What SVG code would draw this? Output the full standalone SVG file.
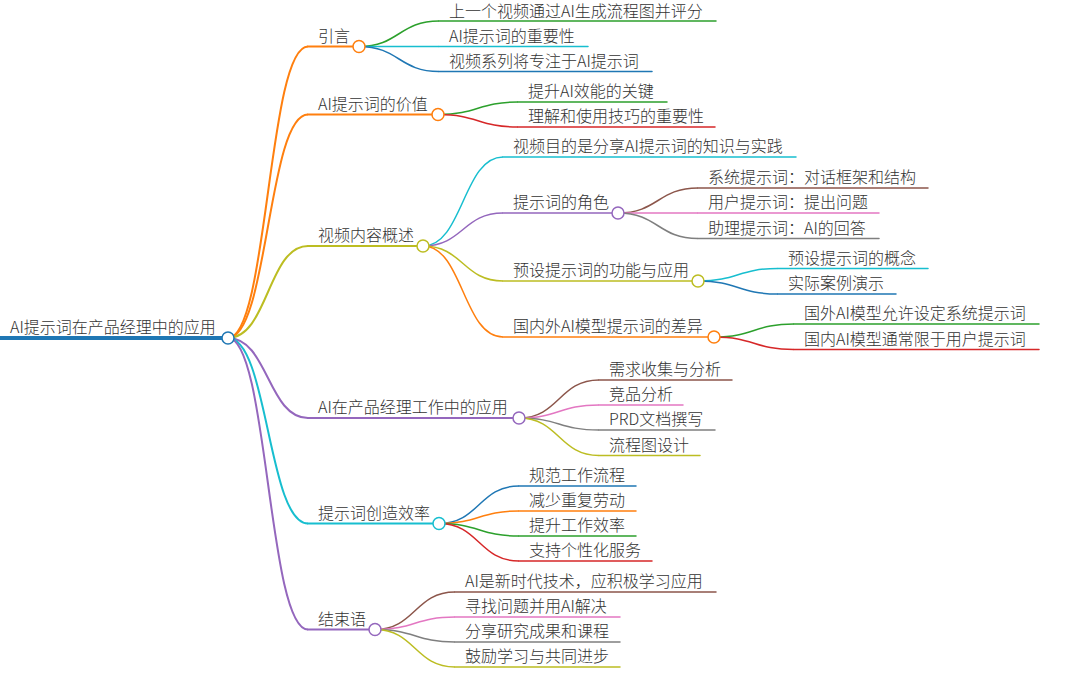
<svg xmlns="http://www.w3.org/2000/svg" width="1080" height="693" viewBox="0 0 1080 693">
<style>
text{font-family:"Noto Sans CJK SC","Noto Sans",sans-serif;font-size:16px;fill:#333;font-weight:300}
.u{fill:none;stroke-linecap:round}
.l{fill:none}
.c{fill:#fff;stroke-width:1.5}
.w1{stroke-width:2}
.w2{stroke-width:1.5}
.blue{stroke:#1f77b4}.orange{stroke:#ff7f0e}.green{stroke:#2ca02c}.red{stroke:#d62728}.purple{stroke:#9467bd}
.brown{stroke:#8c564b}.pink{stroke:#e377c2}.gray{stroke:#7f7f7f}.olive{stroke:#bcbd22}.cyan{stroke:#17becf}
</style>
<rect width="1080" height="693" fill="#fff"/>
<g id="connectors">
<path class="l w1 orange" d="M228,338 C268,338 268,46.5 308,46.5"/>
<path class="l w1 orange" d="M228,338 C268,338 268,114.5 308,114.5"/>
<path class="l w1 olive" d="M228,338 C268,338 268,246 308,246"/>
<path class="l w1 purple" d="M228,338 C268,338 268,418 308,418"/>
<path class="l w1 cyan" d="M228,338 C268,338 268,523.5 308,523.5"/>
<path class="l w1 purple" d="M228,338 C268,338 268,629.5 308,629.5"/>
<path class="l w2 green" d="M359,46.5 C399,46.5 399,21 439,21"/>
<path class="l w2 cyan" d="M359,46.5 C399,46.5 399,46.5 439,46.5"/>
<path class="l w2 blue" d="M359,46.5 C399,46.5 399,71.5 439,71.5"/>
<path class="l w2 green" d="M438,114.5 C478,114.5 478,102 518,102"/>
<path class="l w2 red" d="M438,114.5 C478,114.5 478,127 518,127"/>
<path class="l w2 cyan" d="M423,246 C463,246 463,157 503,157"/>
<path class="l w2 purple" d="M423,246 C463,246 463,213 503,213"/>
<path class="l w2 olive" d="M423,246 C463,246 463,281 503,281"/>
<path class="l w2 orange" d="M423,246 C463,246 463,337 503,337"/>
<path class="l w2 brown" d="M618,213 C658,213 658,188 698,188"/>
<path class="l w2 pink" d="M618,213 C658,213 658,213 698,213"/>
<path class="l w2 gray" d="M618,213 C658,213 658,238.5 698,238.5"/>
<path class="l w2 cyan" d="M698,281 C738,281 738,268.5 778,268.5"/>
<path class="l w2 blue" d="M698,281 C738,281 738,294 778,294"/>
<path class="l w2 green" d="M714,337 C754,337 754,324 794,324"/>
<path class="l w2 red" d="M714,337 C754,337 754,349.5 794,349.5"/>
<path class="l w2 brown" d="M519,418 C559,418 559,380 599,380"/>
<path class="l w2 pink" d="M519,418 C559,418 559,405 599,405"/>
<path class="l w2 gray" d="M519,418 C559,418 559,430 599,430"/>
<path class="l w2 olive" d="M519,418 C559,418 559,455.5 599,455.5"/>
<path class="l w2 blue" d="M439,523.5 C479,523.5 479,486 519,486"/>
<path class="l w2 orange" d="M439,523.5 C479,523.5 479,511 519,511"/>
<path class="l w2 green" d="M439,523.5 C479,523.5 479,536 519,536"/>
<path class="l w2 red" d="M439,523.5 C479,523.5 479,561 519,561"/>
<path class="l w2 brown" d="M375,629.5 C415,629.5 415,592 455,592"/>
<path class="l w2 pink" d="M375,629.5 C415,629.5 415,617 455,617"/>
<path class="l w2 gray" d="M375,629.5 C415,629.5 415,642 455,642"/>
<path class="l w2 olive" d="M375,629.5 C415,629.5 415,667 455,667"/>
</g>
<g id="root"><line class="u blue" x1="0" y1="338" x2="222" y2="338" stroke-width="4"/><text x="10" y="333">AI提示词在产品经理中的应用</text><circle class="c blue" cx="228" cy="338" r="6" stroke-width="2"/></g>
<g id="n-intro"><line class="u w1 orange" x1="308" y1="46.5" x2="353" y2="46.5"/><text x="318" y="41.5">引言</text><circle class="c orange" cx="359" cy="46.5" r="6"/></g>
<g id="n-intro-1"><line class="u w2 green" x1="439" y1="21" x2="716" y2="21"/><text x="449" y="17">上一个视频通过AI生成流程图并评分</text></g>
<g id="n-intro-2"><line class="u w2 cyan" x1="439" y1="46.5" x2="588" y2="46.5"/><text x="449" y="41.5">AI提示词的重要性</text></g>
<g id="n-intro-3"><line class="u w2 blue" x1="439" y1="71.5" x2="652" y2="71.5"/><text x="449" y="66.5">视频系列将专注于AI提示词</text></g>
<g id="n-value"><line class="u w1 orange" x1="308" y1="114.5" x2="432" y2="114.5"/><text x="318" y="109.5">AI提示词的价值</text><circle class="c orange" cx="438" cy="114.5" r="6"/></g>
<g id="n-value-1"><line class="u w2 green" x1="518" y1="102" x2="667" y2="102"/><text x="528" y="97">提升AI效能的关键</text></g>
<g id="n-value-2"><line class="u w2 red" x1="518" y1="127" x2="715" y2="127"/><text x="528" y="122">理解和使用技巧的重要性</text></g>
<g id="n-overview"><line class="u w1 olive" x1="308" y1="246" x2="417" y2="246"/><text x="318" y="241">视频内容概述</text><circle class="c olive" cx="423" cy="246" r="6"/></g>
<g id="n-ov-1"><line class="u w2 cyan" x1="503" y1="157" x2="796" y2="157"/><text x="513" y="152">视频目的是分享AI提示词的知识与实践</text></g>
<g id="n-roles"><line class="u w2 purple" x1="503" y1="213" x2="612" y2="213"/><text x="513" y="208">提示词的角色</text><circle class="c purple" cx="618" cy="213" r="6"/></g>
<g id="n-roles-1"><line class="u w2 brown" x1="698" y1="188" x2="928" y2="188"/><text x="708" y="183">系统提示词：对话框架和结构</text></g>
<g id="n-roles-2"><line class="u w2 pink" x1="698" y1="213" x2="879" y2="213"/><text x="708" y="208">用户提示词：提出问题</text></g>
<g id="n-roles-3"><line class="u w2 gray" x1="698" y1="238.5" x2="879" y2="238.5"/><text x="708" y="233.5">助理提示词：AI的回答</text></g>
<g id="n-preset"><line class="u w2 olive" x1="503" y1="281" x2="692" y2="281"/><text x="513" y="276">预设提示词的功能与应用</text><circle class="c olive" cx="698" cy="281" r="6"/></g>
<g id="n-preset-1"><line class="u w2 cyan" x1="778" y1="268.5" x2="928" y2="268.5"/><text x="788" y="263.5">预设提示词的概念</text></g>
<g id="n-preset-2"><line class="u w2 blue" x1="778" y1="294" x2="896" y2="294"/><text x="788" y="289">实际案例演示</text></g>
<g id="n-diff"><line class="u w2 orange" x1="503" y1="337" x2="708" y2="337"/><text x="513" y="332">国内外AI模型提示词的差异</text><circle class="c orange" cx="714" cy="337" r="6"/></g>
<g id="n-diff-1"><line class="u w2 green" x1="794" y1="324" x2="1039" y2="324"/><text x="804" y="319">国外AI模型允许设定系统提示词</text></g>
<g id="n-diff-2"><line class="u w2 red" x1="794" y1="349.5" x2="1039" y2="349.5"/><text x="804" y="344.5">国内AI模型通常限于用户提示词</text></g>
<g id="n-pm"><line class="u w1 purple" x1="308" y1="418" x2="513" y2="418"/><text x="318" y="413">AI在产品经理工作中的应用</text><circle class="c purple" cx="519" cy="418" r="6"/></g>
<g id="n-pm-1"><line class="u w2 brown" x1="599" y1="380" x2="732" y2="380"/><text x="609" y="375">需求收集与分析</text></g>
<g id="n-pm-2"><line class="u w2 pink" x1="599" y1="405" x2="683" y2="405"/><text x="609" y="400">竞品分析</text></g>
<g id="n-pm-3"><line class="u w2 gray" x1="599" y1="430" x2="715" y2="430"/><text x="609" y="425">PRD文档撰写</text></g>
<g id="n-pm-4"><line class="u w2 olive" x1="599" y1="455.5" x2="700" y2="455.5"/><text x="609" y="450.5">流程图设计</text></g>
<g id="n-eff"><line class="u w1 cyan" x1="308" y1="523.5" x2="433" y2="523.5"/><text x="318" y="518.5">提示词创造效率</text><circle class="c cyan" cx="439" cy="523.5" r="6"/></g>
<g id="n-eff-1"><line class="u w2 blue" x1="519" y1="486" x2="636" y2="486"/><text x="529" y="481">规范工作流程</text></g>
<g id="n-eff-2"><line class="u w2 orange" x1="519" y1="511" x2="636" y2="511"/><text x="529" y="506">减少重复劳动</text></g>
<g id="n-eff-3"><line class="u w2 green" x1="519" y1="536" x2="636" y2="536"/><text x="529" y="531">提升工作效率</text></g>
<g id="n-eff-4"><line class="u w2 red" x1="519" y1="561" x2="652" y2="561"/><text x="529" y="556">支持个性化服务</text></g>
<g id="n-end"><line class="u w1 purple" x1="308" y1="629.5" x2="369" y2="629.5"/><text x="318" y="624.5">结束语</text><circle class="c purple" cx="375" cy="629.5" r="6"/></g>
<g id="n-end-1"><line class="u w2 brown" x1="455" y1="592" x2="716" y2="592"/><text x="465" y="587">AI是新时代技术，应积极学习应用</text></g>
<g id="n-end-2"><line class="u w2 pink" x1="455" y1="617" x2="620" y2="617"/><text x="465" y="612">寻找问题并用AI解决</text></g>
<g id="n-end-3"><line class="u w2 gray" x1="455" y1="642" x2="620" y2="642"/><text x="465" y="637">分享研究成果和课程</text></g>
<g id="n-end-4"><line class="u w2 olive" x1="455" y1="667" x2="620" y2="667"/><text x="465" y="662">鼓励学习与共同进步</text></g>
</svg>
